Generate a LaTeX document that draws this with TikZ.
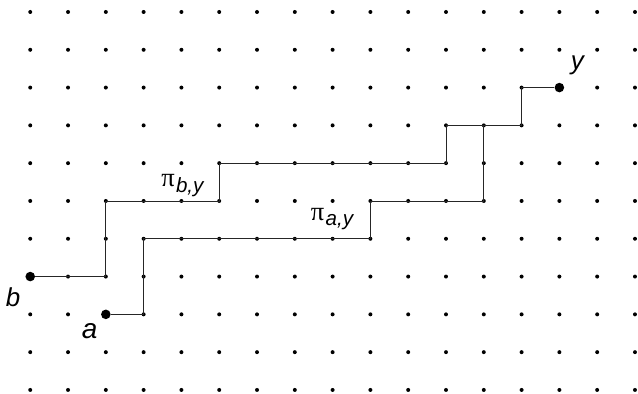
\documentclass[tikz,border=0pt]{standalone}
\usepackage{fontspec}
\setmainfont{Liberation Sans}
\newfontfamily\piserif{Liberation Serif}
\begin{document}
\begin{tikzpicture}[x=1cm,y=1cm,
  gdot/.style={circle,fill=black,inner sep=0pt,minimum size=3.0pt},
  bigdot/.style={circle,fill=black,inner sep=0pt,minimum size=7.2pt},
  pathline/.style={line width=0.7pt,black!85},
  lbl/.style={inner sep=0pt,anchor=base west,font=\fontsize{19.5}{19.5}\selectfont\itshape},
  pilbl/.style={inner sep=0pt,anchor=base west}]
\useasboundingbox (-0.80,-0.106) rectangle (16.08,10.317);
% grid of dots
\foreach \i in {0,...,16} {
  \foreach \j in {0,...,10} {
    \node[gdot] at (\i,\j) {};
  }
}
% endpoints
\node[bigdot] (b) at (0,3) {};
\node[bigdot] (a) at (2,2) {};
\node[bigdot] (y) at (14,8) {};
% corner coordinates of pi_{b,y}
\coordinate (b1) at (2,3);
\coordinate (b2) at (2,5);
\coordinate (b3) at (5,5);
\coordinate (b4) at (5,6);
\coordinate (b5) at (11,6);
\coordinate (b6) at (11,7);
\coordinate (m1) at (13,7);
\coordinate (m2) at (13,8);
% corner coordinates of pi_{a,y}
\coordinate (a1) at (3,2);
\coordinate (a2) at (3,4);
\coordinate (a3) at (9,4);
\coordinate (a4) at (9,5);
\coordinate (a5) at (12,5);
\coordinate (a6) at (12,7);
% paths
\draw[pathline] (b) -- (b1) -- (b2) -- (b3) -- (b4) -- (b5) -- (b6) -- (m1) -- (m2) -- (y);
\draw[pathline] (a) -- (a1) -- (a2) -- (a3) -- (a4) -- (a5) -- (a6) -- (m1);
% labels
\node[lbl] (lb) at (-0.65,2.2) {b};
\node[lbl,font=\fontsize{21}{21}\selectfont\itshape] (la) at (1.36,1.35) {a};
\node[lbl] (ly) at (14.30,8.47) {y};
\node[pilbl] (lpb) at (3.46,5.37) {{\fontsize{20}{20}\selectfont\piserif π}\hspace{1pt}\raisebox{-3.8pt}{\fontsize{15.5}{15.5}\selectfont\itshape b,y}};
\node[pilbl] (lpa) at (7.42,4.48) {{\fontsize{20}{20}\selectfont\piserif π}\hspace{1pt}\raisebox{-3.8pt}{\fontsize{15.5}{15.5}\selectfont\itshape a,y}};
\end{tikzpicture}
\end{document}
